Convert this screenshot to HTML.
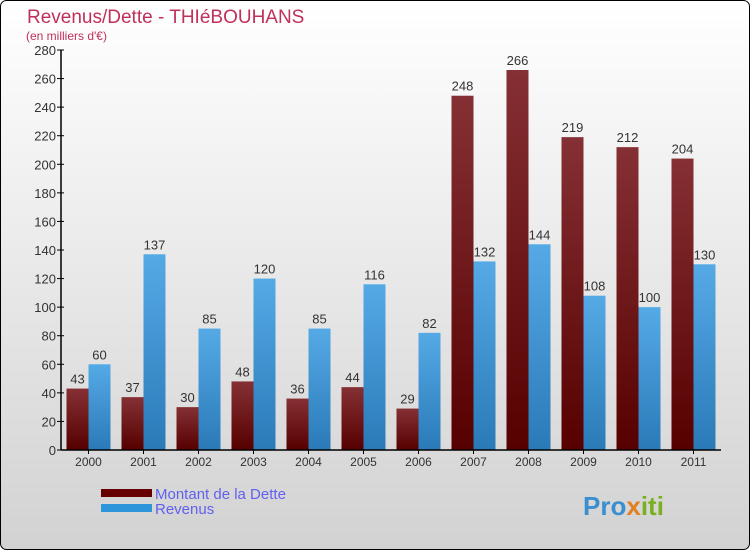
<!DOCTYPE html>
<html><head><meta charset="utf-8"><style>
body{margin:0;}
#c{width:750px;height:550px;position:relative;overflow:hidden;}
svg text{font-family:"Liberation Sans",sans-serif;}
</style></head><body>
<div id="c">
<svg id="s" width="750" height="550" xmlns="http://www.w3.org/2000/svg">
<defs>
<linearGradient id="bg" x1="0" y1="0" x2="0" y2="1"><stop offset="0" stop-color="#ffffff"/><stop offset="1" stop-color="#d2d2d2"/></linearGradient>
<linearGradient id="gd" x1="0" y1="0" x2="0" y2="1"><stop offset="0" stop-color="#853034"/><stop offset="1" stop-color="#560000"/></linearGradient>
<linearGradient id="gr" x1="0" y1="0" x2="0" y2="1"><stop offset="0" stop-color="#55aae6"/><stop offset="1" stop-color="#2a7ab8"/></linearGradient>
</defs>
<rect x="0.5" y="0.5" width="749" height="549" rx="6" fill="url(#bg)" stroke="#000"/>
<text x="27" y="23" font-size="19" fill="#c0305a">Revenus/Dette - THIéBOUHANS</text>
<text x="26" y="40" font-size="12" fill="#c0305a">(en milliers d'€)</text>
<g id="plot"></g>
<g>
<rect x="101" y="489" width="51" height="8" fill="#660000"/>
<text x="155" y="499" font-size="15" fill="#6060f0">Montant de la Dette</text>
<rect x="101" y="504" width="51" height="8" fill="#2e95db"/>
<text x="155" y="514" font-size="15" fill="#6060f0">Revenus</text>
</g>
<text x="583" y="515" font-size="26" font-weight="bold" fill="#3a8fd0">Pro<tspan fill="#e08020">x</tspan><tspan fill="#7ab020">iti</tspan></text>
</svg>
</div>
<script>
const years=["2000","2001","2002","2003","2004","2005","2006","2007","2008","2009","2010","2011"];
const dette=[43,37,30,48,36,44,29,248,266,219,212,204];
const revenus=[60,137,85,120,85,116,82,132,144,108,100,130];
const yTicks=[0,20,40,60,80,100,120,140,160,180,200,220,240,260,280];
const NS="http://www.w3.org/2000/svg";
const g=document.getElementById('plot');
const x0=61,x1=721,yb=450,yt=50,ymax=280;
const step=(x1-x0)/years.length, bw=22;
function y(v){return yb-(v/ymax)*(yb-yt);}
function cx(i){return x0+step/2+step*i;}
function mk(t,a){const e=document.createElementNS(NS,t);for(const k in a)e.setAttribute(k,a[k]);g.appendChild(e);return e;}
yTicks.forEach(v=>{
 const l=mk('line',{x1:x0-4,x2:x0+3,y1:y(v),y2:y(v),stroke:'#000'});
 
 
 const t=mk('text',{x:x0-5,y:y(v)+5,'text-anchor':'end','font-size':13,fill:'#333'});
 t.textContent=v;
 
 
});
years.forEach((yr,i)=>{
 const c=cx(i);
 const r1=mk('rect',{x:c-bw,y:y(dette[i]),width:bw,height:yb-y(dette[i]),fill:'url(#gd)'});
 
 
 const r2=mk('rect',{x:c,y:y(revenus[i]),width:bw,height:yb-y(revenus[i]),fill:'url(#gr)'});
 
 
 const t1=mk('text',{x:c-bw/2,y:y(dette[i])-5,'text-anchor':'middle','font-size':13,fill:'#333'});
 t1.textContent=dette[i];
 
 
 const t2=mk('text',{x:c+bw/2,y:y(revenus[i])-5,'text-anchor':'middle','font-size':13,fill:'#333'});
 t2.textContent=revenus[i];
 
 
 const tk=mk('line',{x1:c,x2:c,y1:yb,y2:yb+4,stroke:'#000'});
 
 
 const xl=mk('text',{x:c,y:yb+16,'text-anchor':'middle','font-size':12,fill:'#333'});
 xl.textContent=yr;
 
 
});
const ax=mk('line',{x1:x0,x2:x0,y1:yt,y2:yb,stroke:'#000','stroke-width':1.5});


const bx=mk('line',{x1:x0,x2:x1,y1:yb,y2:yb,stroke:'#000','stroke-width':1.5});


</script>
</body></html>
